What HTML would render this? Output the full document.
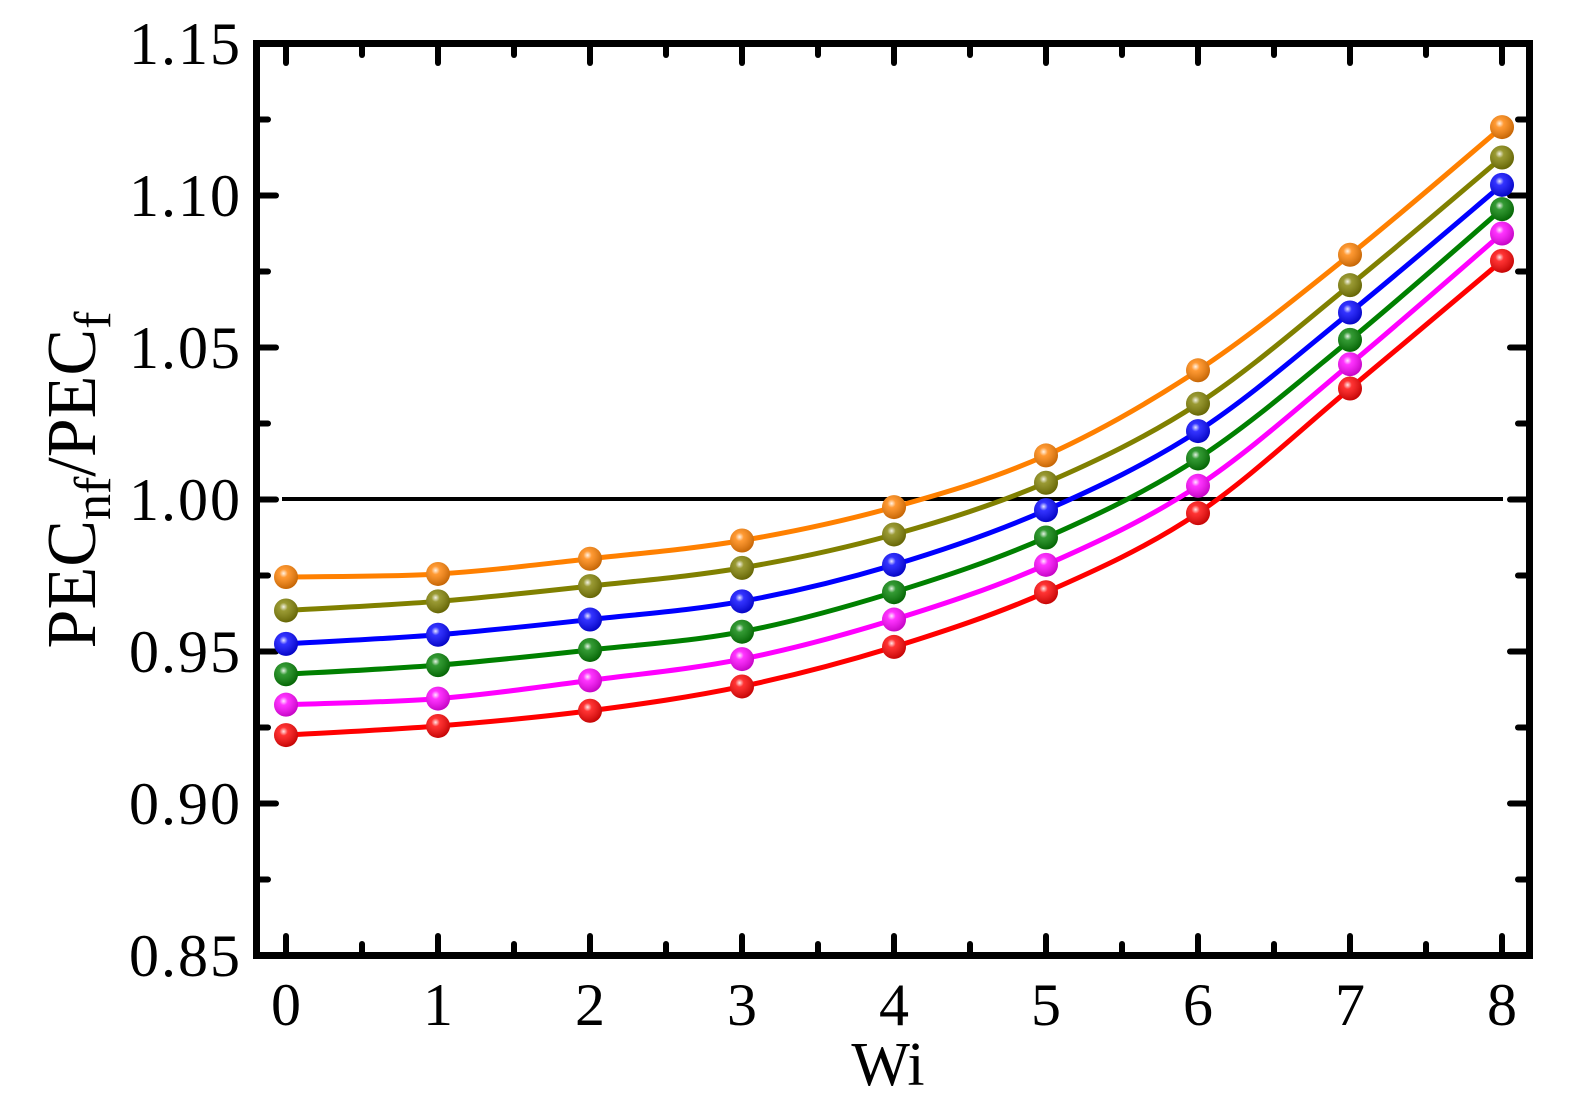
<!DOCTYPE html>
<html><head><meta charset="utf-8"><style>
html,body{margin:0;padding:0;background:#fff}
svg{display:block}
text{font-family:"Liberation Serif",serif;fill:#000}
</style></head><body>
<svg id="s" width="1574" height="1105" xmlns="http://www.w3.org/2000/svg">
<defs>
<radialGradient id="g" cx="0.4" cy="0.35" r="0.7"><stop offset="0" stop-color="#fff" stop-opacity="0.9"/><stop offset="0.25" stop-color="#fff" stop-opacity="0.2"/><stop offset="1" stop-color="#000" stop-opacity="0.25"/></radialGradient>
</defs>
<g id="plot"></g>
<rect x="256.5" y="43.5" width="1273" height="912" fill="none" stroke="#000" stroke-width="7"/>
<g font-size="60" text-anchor="end" letter-spacing="2">
<text x="242" y="64">1.15</text><text x="242" y="216">1.10</text><text x="242" y="368">1.05</text>
<text x="242" y="520">1.00</text><text x="242" y="672">0.95</text><text x="242" y="824">0.90</text><text x="242" y="976">0.85</text>
</g>
<g font-size="60" text-anchor="middle" id="xl"></g>
<text x="888" y="1085" font-size="62" text-anchor="middle">Wi</text>
<text transform="translate(95,480) rotate(-90)" font-size="70" text-anchor="middle">PEC<tspan font-size="52" dy="15">nf</tspan><tspan dy="-15">/PEC</tspan><tspan font-size="52" dy="15">f</tspan></text>
</svg>
<script>
var NS="http://www.w3.org/2000/svg",p=document.getElementById("plot"),xl=document.getElementById("xl");
function X(i){return 286+152*i}function Y(v){return 45+(1.15-v)*3040}
function el(t,a,par){var e=document.createElementNS(NS,t);for(var k in a)e.setAttribute(k,a[k]);(par||p).appendChild(e);return e}
for(var i=0;i<=8;i++){el("line",{x1:X(i),y1:952,x2:X(i),y2:936,stroke:"#000","stroke-width":6,"stroke-linecap":"round"});
el("line",{x1:X(i),y1:47,x2:X(i),y2:63,stroke:"#000","stroke-width":6,"stroke-linecap":"round"});
if(i<8){el("line",{x1:X(i+.5),y1:952,x2:X(i+.5),y2:944,stroke:"#000","stroke-width":6,"stroke-linecap":"round"});
el("line",{x1:X(i+.5),y1:47,x2:X(i+.5),y2:55,stroke:"#000","stroke-width":6,"stroke-linecap":"round"});}
var t=el("text",{x:X(i),y:1025},xl);t.textContent=i;}
for(var j=0;j<=12;j++){var y=43.5+76*j,L=(j%2==0)?16:8;
el("line",{x1:260,y1:y,x2:260+L,y2:y,stroke:"#000","stroke-width":6,"stroke-linecap":"round"});
el("line",{x1:1526,y1:y,x2:1526-L,y2:y,stroke:"#000","stroke-width":6,"stroke-linecap":"round"});}
el("line",{x1:282,y1:499,x2:1503,y2:499,stroke:"#000","stroke-width":4});
var S=[["#ff8000",[.975,.976,.981,.987,.998,1.015,1.043,1.081,1.123]],
["#808000",[.964,.967,.972,.978,.989,1.006,1.032,1.071,1.113]],
["#0000ff",[.953,.956,.961,.967,.979,.997,1.023,1.062,1.104]],
["#008000",[.943,.946,.951,.957,.970,.988,1.014,1.053,1.096]],
["#ff00ff",[.933,.935,.941,.948,.961,.979,1.005,1.045,1.088]],
["#ff0000",[.923,.926,.931,.939,.952,.970,.996,1.037,1.079]]];
S.forEach(function(s){var P=s[1].map(function(v,i){return[X(i),Y(v)]});var d="M"+P[0];
for(var i=0;i<P.length-1;i++){var a=P[i-1]||P[i],b=P[i],c=P[i+1],e=P[i+2]||c;
d+="C"+(b[0]+(c[0]-a[0])/6)+","+(b[1]+(c[1]-a[1])/6)+" "+(c[0]-(e[0]-b[0])/6)+","+(c[1]-(e[1]-b[1])/6)+" "+c[0]+","+c[1];}
el("path",{d:d,fill:"none",stroke:s[0],"stroke-width":5});
P.forEach(function(q){el("circle",{cx:q[0],cy:q[1],r:12,fill:s[0]});el("circle",{cx:q[0],cy:q[1],r:12,fill:"url(#g)"});});});
</script>
</body></html>
